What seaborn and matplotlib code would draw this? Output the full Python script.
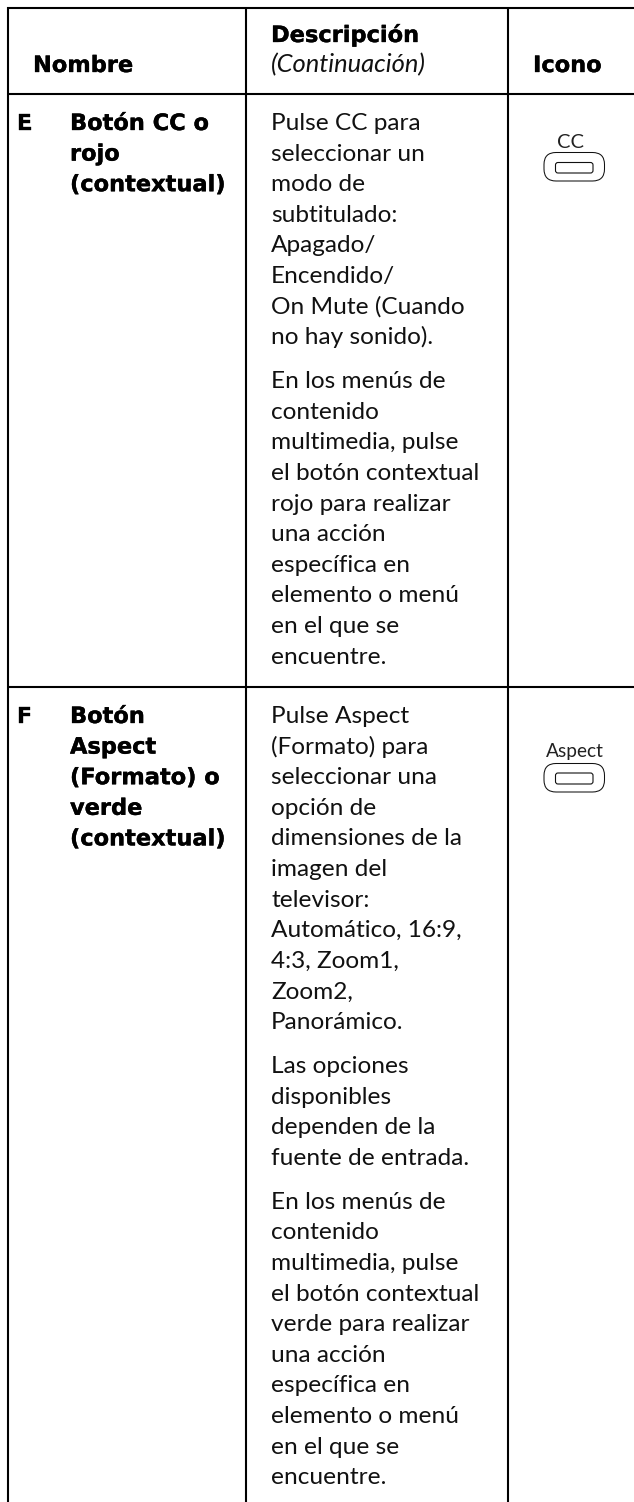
import pandas as pd
import matplotlib
matplotlib.use("Agg")
import matplotlib.pyplot as plt
import matplotlib.patheffects as pe
import seaborn as sns
from matplotlib.patches import FancyBboxPatch

# table text
header_nombre = "Nombre"
header_desc = "Descripción"
header_desc_sub = "(Continuación)"
header_icono = "Icono"

letters = ["E", "F"]
names_e = ["Botón CC o", "rojo", "(contextual)"]
names_f = ["Botón", "Aspect", "(Formato) o", "verde", "(contextual)"]

desc_e = [
    ["Pulse CC para", "seleccionar un", "modo de", "subtitulado:", "Apagado/",
     "Encendido/", "On Mute (Cuando", "no hay sonido)."],
    ["En los menús de", "contenido", "multimedia, pulse", "el botón contextual",
     "rojo para realizar", "una acción", "específica en", "elemento o menú",
     "en el que se", "encuentre."],
]
desc_f = [
    ["Pulse Aspect", "(Formato) para", "seleccionar una", "opción de",
     "dimensiones de la", "imagen del", "televisor:", "Automático, 16:9,",
     "4:3, Zoom1,", "Zoom2,", "Panorámico."],
    ["Las opciones", "disponibles", "dependen de la", "fuente de entrada."],
    ["En los menús de", "contenido", "multimedia, pulse", "el botón contextual",
     "verde para realizar", "una acción", "específica en", "elemento o menú",
     "en el que se", "encuentre."],
]
icon_labels = ["CC", "Aspect"]

sns.set_theme(style="white", rc={"lines.solid_capstyle": "butt"})
plt.rcParams["font.family"] = ["Lato", "DejaVu Sans"]

fig = plt.figure(figsize=(6.34, 15.02), dpi=100)
ax = fig.add_axes([0, 0, 1, 1])

# table rules, in pixels
rules = pd.DataFrame({
    "rule": [0, 0, 1, 1, 2, 2, 3, 3, 4, 4, 5, 5],
    "x": [7, 634, 7, 634, 7, 634, 7.5, 7.5, 246, 246, 508, 508],
    "y": [8, 8, 94, 94, 687, 687, 7, 1502, 7, 1502, 7, 1502],
})
sns.lineplot(data=rules, x="x", y="y", units="rule", estimator=None, sort=False,
             color="black", linewidth=1.5, legend=False, ax=ax)
ax.set_xlim(0, 634)
ax.set_ylim(1502, 0)
ax.axis("off")

BODY = 17.6
BOLD = 16.2
STEP = 30.6
GAP = 44


def bold(x, y, s):
    t = ax.text(x, y, s, fontsize=BOLD, family=["DejaVu Sans"], fontweight="bold",
                va="baseline", color="black")
    t.set_path_effects([pe.withStroke(linewidth=0.25, foreground="black")])


def body(x, y, s, size=BODY, **kw):
    ax.text(x, y, s, fontsize=size, va="baseline", color="#111111", **kw)


def paragraphs(y, paras):
    for para in paras:
        for line in para:
            body(271, y, line)
            y += STEP
        y += GAP - STEP


def icon(y_top, y_bot, y_in_top, y_in_bot, label, cx, y_label, size):
    ax.add_patch(FancyBboxPatch((555.5, y_in_top), 37.5, y_in_bot - y_in_top,
                                boxstyle="round,pad=0,rounding_size=2.5", lw=0.8,
                                ec="#111111", fc="none"))
    ax.add_patch(FancyBboxPatch((544, y_top), 60.5, y_bot - y_top,
                                boxstyle="round,pad=0,rounding_size=12", lw=0.75,
                                ec="#111111", fc="none"))
    ax.text(cx, y_label, label, fontsize=size, ha="center", va="baseline", color="#222222")


# header
bold(33, 72, header_nombre)
bold(271, 42, header_desc)
body(271, 72, header_desc_sub, size=18.4, fontstyle="italic")
bold(533, 72, header_icono)

# row E
bold(17, 130, letters[0])
for i, line in enumerate(names_e):
    bold(70, 130 + i * STEP, line)
paragraphs(130, desc_e)
icon(152.5, 181, 162.5, 173, icon_labels[0], 571, 148, 14.5)

# row F
bold(17, 723, letters[1])
for i, line in enumerate(names_f):
    bold(70, 723 + i * STEP, line)
paragraphs(723, desc_f)
icon(763.5, 792, 773, 784, icon_labels[1], 575, 756.5, 13.8)

fig.savefig("out.png", dpi=100)
